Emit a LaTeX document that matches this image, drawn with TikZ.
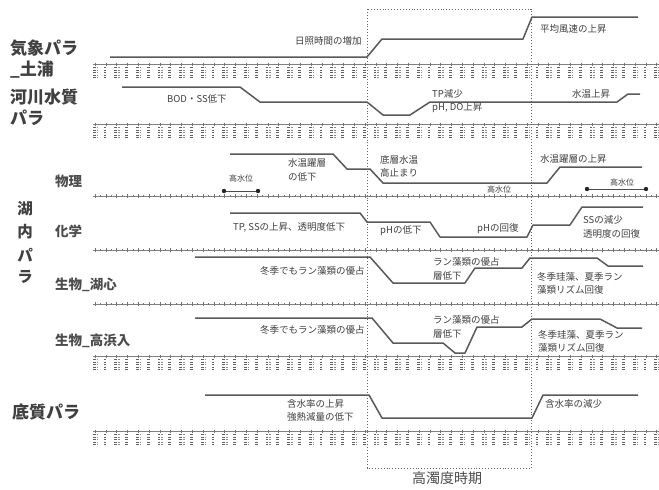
\documentclass[tikz,border=0pt]{standalone}
\usepackage{fontspec}
\newfontfamily\jp{Noto Sans CJK JP}
\newcommand{\thickaxis}[1]{%
  \draw[axisln] (93,#1) -- (659,#1);
  \foreach \i in {0,...,52} {
    \pgfmathsetmacro{\xx}{95+10.8*\i}
    \draw[axtick] (\xx,#1-1.5) -- (\xx,#1+2);
    \draw[axlab] (\xx-0.8,#1+3) -- (\xx-0.8,#1+14.5);
    \ifodd\i\relax\else\draw[axlab2] (\xx+2.4,#1+3) -- (\xx+2.4,#1+14.5);\fi
  }}
\newcommand{\thinaxis}[1]{%
  \draw[axisln] (93,#1) -- (659,#1);
  \foreach \i in {0,...,52} {
    \pgfmathsetmacro{\xx}{95+10.8*\i}
    \draw[axtick] (\xx,#1-2) -- (\xx,#1+1.5);
    \draw[axtick] (\xx+5.4,#1-1) -- (\xx+5.4,#1+0.5);
  }}
\begin{document}
\begin{tikzpicture}[x=1pt,y=-1pt,
  sig/.style={line width=1.5pt, draw=black!65, line join=round},
  ann/.style={font=\jp\fontsize{9.5}{11}\selectfont, text=black!75, inner sep=0pt, anchor=west},
  annsm/.style={font=\jp\fontsize{8}{9}\selectfont, text=black!75, inner sep=0pt},
  big/.style={font=\jp\bfseries\fontsize{17}{19}\selectfont, text=black!75, inner sep=0pt, anchor=west},
  vbig/.style={font=\jp\bfseries\fontsize{15.5}{17}\selectfont, text=black!75, inner sep=0pt},
  sub/.style={font=\jp\bfseries\fontsize{13.5}{15}\selectfont, text=black!70, inner sep=0pt, anchor=west},
  axisln/.style={draw=black!50, line width=0.7pt},
  axtick/.style={draw=black!55, line width=0.6pt},
  axlab/.style={draw=black!62, line width=2.8pt, dash pattern=on 1.4pt off 1.1pt},
  axlab2/.style={draw=black!45, line width=1.6pt, dash pattern=on 1.4pt off 1.1pt},
  period/.style={draw=black!60, line width=0.9pt, dotted},
  dotend/.style={fill=black!85},
  dumb/.style={draw=black!70, line width=0.6pt}
]
\useasboundingbox[fill=white] (0,0) rectangle (659,490);

% left labels
\node[big] (kisho) at (10,48) {気象パラ};
\node[big] (tsuchiura) at (10,70) {\_土浦};
\node[big] (kasen) at (10,97) {河川水質};
\node[big] (kasenpara) at (10,118) {パラ};
\node[vbig] (ko) at (25,209) {湖};
\node[vbig] (nai) at (25,232) {内};
\node[vbig] (pa) at (25,255) {パ};
\node[vbig] (ra) at (25,277) {ラ};
\node[big] (teishitsu) at (12,412) {底質パラ};
\node[sub] (butsuri) at (55,181) {物理};
\node[sub] (kagaku) at (55,231) {化学};
\node[sub] (seibutsu1) at (55,285) {生物\_湖心};
\node[sub] (seibutsu2) at (55,341) {生物\_高浜入};

% axes
\thickaxis{64}
\thickaxis{124}
\thinaxis{196}
\thinaxis{250}
\thinaxis{304}
\thickaxis{356}
\thickaxis{431}

% high turbidity period box
\draw[period] (367,9) rectangle (531,468);
\node[font=\jp\fontsize{14}{16}\selectfont, text=black!70] (period) at (447,478) {高濁度時期};

% row 1 weather
\draw[sig] (110,57) -- (367,57) -- (382,39) -- (523,39) -- (532,17) -- (638,17);
\node[ann] (r1a) at (295,41) {日照時間の増加};
\node[ann] (r1b) at (540,29) {平均風速の上昇};

% row 2 river
\draw[sig] (122,87) -- (240,87) -- (260,102) -- (367,102) -- (383,115) -- (410,115) -- (430,102) -- (617,102) -- (628,94) -- (640,94);
\node[ann] (r2a) at (167,99) {BOD・SS低下};
\node[ann] (r2b) at (432,94) {TP減少};
\node[ann] (r2c) at (432,108) {pH, DO上昇};
\node[ann] (r2d) at (572,94) {水温上昇};

% row 3 physics
\draw[sig] (230,154) -- (333,154) -- (347,169) -- (370,169) -- (383,183) -- (547,183) -- (560,167) -- (642,167);
\node[annsm] (hw1) at (241,178) {高水位};
\draw[dumb] (224,191) -- (258,191);
\fill[dotend] (224,191) circle (2.2pt);
\fill[dotend] (258,191) circle (2.2pt);
\node[ann] (r3a) at (288,163) {水温躍層};
\node[ann] (r3b) at (288,177) {の低下};
\node[ann] (r3c) at (380,160) {底層水温};
\node[ann] (r3d) at (380,173) {高止まり};
\node[annsm] (hw2) at (499,189) {高水位};
\node[ann] (r3e) at (540,159) {水温躍層の上昇};
\node[annsm] (hw3) at (622,182) {高水位};
\draw[dumb] (587,189) -- (646,189);
\fill[dotend] (587,189) circle (2.2pt);
\fill[dotend] (646,189) circle (2.2pt);

% row 4 chemistry
\draw[sig] (230,213) -- (360,213) -- (367,222) -- (430,222) -- (440,237) -- (527,237) -- (533,225) -- (570,225) -- (582,207) -- (643,207);
\node[ann] (r4a) at (233,227) {TP, SSの上昇、透明度低下};
\node[ann] (r4b) at (380,231) {pHの低下};
\node[ann] (r4c) at (477,229) {pHの回復};
\node[ann] (r4d) at (583,220) {SSの減少};
\node[ann] (r4e) at (583,234) {透明度の回復};

% row 5 biology (lake center)
\draw[sig] (195,257) -- (370,257) -- (393,283) -- (465,283) -- (475,268) -- (522,268) -- (530,258) -- (597,258) -- (608,266) -- (643,266);
\node[ann] (r5a) at (260,271) {冬季でもラン藻類の優占};
\node[ann] (r5b) at (433,262) {ラン藻類の優占};
\node[ann] (r5c) at (433,276) {層低下};
\node[ann] (r5d) at (537,277) {冬季珪藻、夏季ラン};
\node[ann] (r5e) at (537,290) {藻類リズム回復};

% row 6 biology (Takahamairi)
\draw[sig] (195,318) -- (372,318) -- (393,343) -- (443,343) -- (455,353) -- (465,353) -- (477,327) -- (522,327) -- (532,319) -- (600,319) -- (617,328) -- (642,328);
\node[ann] (r6a) at (260,330) {冬季でもラン藻類の優占};
\node[ann] (r6b) at (433,320) {ラン藻類の優占};
\node[ann] (r6c) at (433,334) {層低下};
\node[ann] (r6d) at (538,335) {冬季珪藻、夏季ラン};
\node[ann] (r6e) at (538,348) {藻類リズム回復};

% row 7 sediment
\draw[sig] (205,395) -- (369,395) -- (382,418) -- (532,418) -- (543,395) -- (638,395);
\node[ann] (r7a) at (287,404) {含水率の上昇};
\node[ann] (r7b) at (287,417) {強熱減量の低下};
\node[ann] (r7c) at (545,404) {含水率の減少};
\end{tikzpicture}
\end{document}
